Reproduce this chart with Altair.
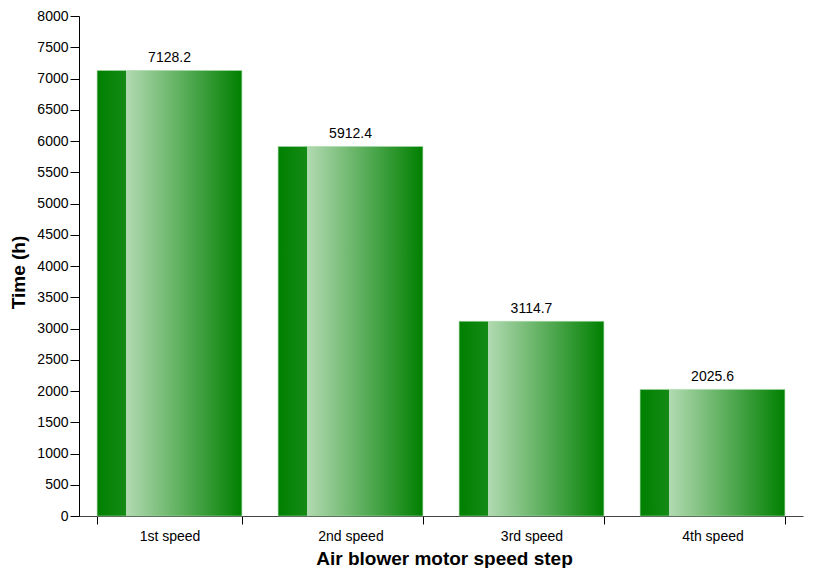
import altair as alt
import pandas as pd

categories = ["1st speed", "2nd speed", "3rd speed", "4th speed"]
times = [7128.2, 5912.4, 3114.7, 2025.6]
labels = ["7128.2", "5912.4", "3114.7", "2025.6"]
y_ticks = list(range(0, 8001, 500))

df = pd.DataFrame({"step": categories, "time": times, "label": labels})

grad = alt.Gradient(
    gradient="linear",
    stops=[
        alt.GradientStop(color="#008000", offset=0),
        alt.GradientStop(color="#158a15", offset=0.2),
        alt.GradientStop(color="#b2dab2", offset=0.2),
        alt.GradientStop(color="#008000", offset=1),
    ],
    x1=0, x2=1, y1=0, y2=0,
)

FONT = "Liberation Sans"
W, H = 724, 500

x_enc = alt.X(
    "step:N", sort=categories,
    scale=alt.Scale(paddingInner=0.2, paddingOuter=0.1),
    axis=alt.Axis(
        title="Air blower motor speed step", labelAngle=0, tickBand="extent",
        labelFont=FONT, labelFontSize=14, labelColor="#000", labelPadding=5,
        titleFont=FONT, titleFontSize=19, titleFontWeight="bold", titleColor="#000",
        titleX=W / 2 + 3, titleY=48, titleBaseline="alphabetic", titleAnchor="middle",
        domainColor="#444", tickColor="#000", tickSize=8,
    ),
)
y_enc = alt.Y(
    "time:Q",
    scale=alt.Scale(domain=[0, 8000], nice=False),
    axis=alt.Axis(
        title="Time (h)", values=y_ticks, grid=False, format="d", labelOverlap=False,
        labelFont=FONT, labelFontSize=14, labelColor="#000", labelPadding=2,
        titleFont=FONT, titleFontSize=19, titleFontWeight="bold", titleColor="#000",
        titleX=-55, titleY=256, titleAngle=-90, titleBaseline="alphabetic", titleAlign="center",
        domainColor="#000", tickColor="#000", tickSize=9,
    ),
)

bars = alt.Chart(df).mark_bar(fill=grad, stroke="#a6d8a6", strokeWidth=0.6).encode(
    x=x_enc, y=y_enc
)
text = alt.Chart(df).mark_text(
    dy=-8, baseline="alphabetic", font=FONT, fontSize=14, color="#000"
).encode(x=x_enc, y=y_enc, text="label:N")

chart = (bars + text).properties(
    width=W, height=H,
    autosize=alt.AutoSizeParams(type="none"),
    padding={"left": 71, "top": 8, "right": 2, "bottom": 52},
).configure_view(stroke=None)

chart.save("out.html", embed_options={"renderer": "svg", "actions": False})
